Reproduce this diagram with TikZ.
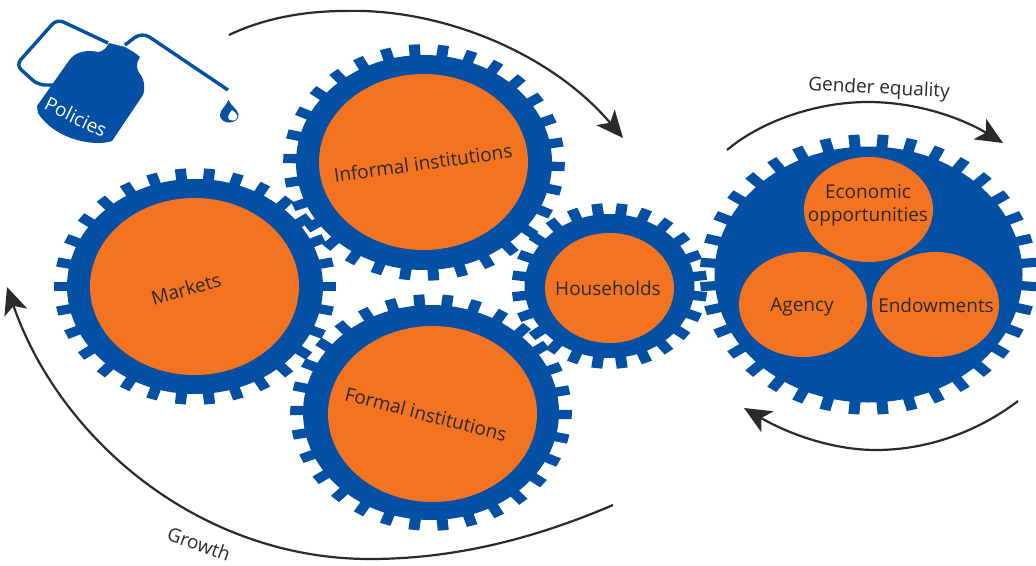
\documentclass[tikz,border=0pt]{standalone}
\usepackage{fontspec}
\setmainfont{Open Sans}
\usetikzlibrary{arrows.meta, shapes.geometric}

\definecolor{gearblue}{HTML}{0450A4}
\definecolor{gearorange}{HTML}{F47321}
\definecolor{inkgray}{HTML}{2B2A29}

\tikzset{
    hub/.style={ellipse, fill=gearorange, inner sep=0pt},
    biglabel/.style={inner sep=0pt, text=inkgray, align=center, font=\fontsize{19}{23}\selectfont},
    cyclearrow/.style={-{Stealth[length=27pt, width=24pt, inset=7pt]}, line width=2.2pt, draw=inkgray}
}

% centre x, centre y, radius x, radius y, teeth, offset, tip of tooth
\newcommand{\gearwheel}[7]{
    \pgfmathsetmacro{\halfw}{5.5/#3}
    \begin{scope}[shift={(#1,#2)}, xscale=#3, yscale=#4]
        \fill[gearblue] (0,0) circle [radius=1];
        \foreach \k in {1,...,#5} {
            \fill[gearblue, rotate={\k*360/#5+#6}] (0.95,-\halfw) -- (#7,-\halfw) -- (#7,\halfw) -- (0.95,\halfw) -- cycle;
        }
    \end{scope}
}

\begin{document}
\begin{tikzpicture}[x=1pt, y=-1pt]
    \useasboundingbox (0,0) rectangle (1036,565);

    % Gears
    \gearwheel{424}{162.5}{128}{107.5}{30}{-2}{1.1}
    \gearwheel{195}{286.5}{128}{107.5}{30}{0}{1.1}
    \gearwheel{431}{412.5}{128}{107.5}{30}{-1}{1.1}
    \gearwheel{609.5}{286}{85}{72}{24}{7.5}{1.15}
    \gearwheel{868.5}{274.5}{154}{128}{36}{5}{1.095}

    % Hubs
    \node[hub, minimum width=209pt, minimum height=176pt] (informal) at (423.5,162) {};
    \node[hub, minimum width=209pt, minimum height=177pt] (markets) at (194.5,286.5) {};
    \node[hub, minimum width=209pt, minimum height=176pt] (formal) at (432.5,414) {};
    \node[hub, minimum width=129pt, minimum height=110pt] (households) at (609.5,288) {};
    \node[hub, minimum width=129pt, minimum height=105pt] (economic) at (868.5,209.5) {};
    \node[hub, minimum width=128pt, minimum height=105pt] (agency) at (803,304.5) {};
    \node[hub, minimum width=127pt, minimum height=105pt] (endowments) at (935.5,304.5) {};

    % Labels
    \node[biglabel, rotate=8] (informaltext) at (423,163) {Informal institutions};
    \node[biglabel, rotate=16] (marketstext) at (186,289) {Markets};
    \node[biglabel, rotate=-14.5] (formaltext) at (426,414) {Formal institutions};
    \node[biglabel] (householdstext) at (608,288) {Households};
    \node[biglabel] (economictext) at (868,205) {Economic\\opportunities};
    \node[biglabel] (agencytext) at (802,307) {Agency};
    \node[biglabel] (endowmentstext) at (936,305) {Endowments};
    \node[biglabel, rotate=-3] (gendertext) at (879,89) {Gender equality};
    \node[biglabel, rotate=-20] (growthtext) at (199,544) {Growth};

    % Bottle
    \draw[gearblue, line width=3.4pt, rounded corners=7pt] (108,43) -- (57,19) -- (16,65) -- (38,85) -- (55,85);
    \draw[gearblue, line width=3.4pt, rounded corners=9pt] (125,45) -- (142,32) -- (228,90);
    \fill[gearblue] (109,43) -- (125,47) .. controls (130,50) and (136,53) .. (140,57)
        .. controls (135,65) and (137,70) .. (140,74) .. controls (145,80) and (145,90) .. (143,95)
        -- (112,141) .. controls (95,147) and (55,140) .. (38,113) -- (37,106)
        -- (68,62) .. controls (75,50) and (90,50) .. (98,52) .. controls (103,52) and (107,47) .. (109,43) -- cycle;
    \node[biglabel, text=white, rotate=-26] (policiestext) at (76,117) {Policies};

    % Drop
    \fill[gearblue] (228.5,100) .. controls (226,106) and (220,110) .. (220,115)
        .. controls (220,125) and (238.5,125) .. (238.5,115) .. controls (238.5,110) and (231,106) .. (228.5,100) -- cycle;
    \fill[white] (232,110) .. controls (230,113) and (228,115) .. (228,117)
        .. controls (228,122) and (237.5,122) .. (237.5,116) .. controls (237,113) and (234,112) .. (232,110) -- cycle;

    % Arrows
    \coordinate (policystart) at (229,35);
    \coordinate (policyend) at (623,138);
    \coordinate (genderstart) at (727,150);
    \coordinate (genderend) at (1003,143);
    \coordinate (returnstart) at (1018,401);
    \coordinate (returnend) at (744,408);
    \coordinate (growthstart) at (613,505);
    \coordinate (growthend) at (7,287);

    \draw[cyclearrow] (policystart) .. controls (260,20) and (300,11) .. (345,11)
        .. controls (440,8) and (550,52) .. (policyend);
    \draw[cyclearrow] (genderstart) .. controls (760,122) and (815,102) .. (868,102)
        .. controls (920,102) and (965,120) .. (genderend);
    \draw[cyclearrow] (returnstart) .. controls (980,430) and (930,450) .. (876,450)
        .. controls (830,450) and (785,432) .. (returnend);
    \draw[cyclearrow] (growthstart) .. controls (520,545) and (440,559) .. (370,559)
        .. controls (200,559) and (60,440) .. (growthend);
\end{tikzpicture}
\end{document}
